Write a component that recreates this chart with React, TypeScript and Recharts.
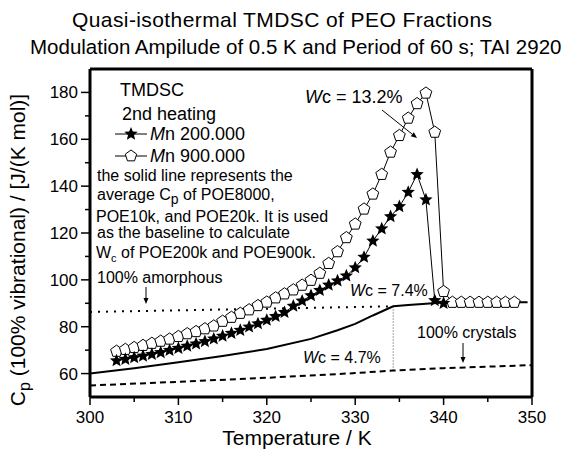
import React from "react";
import { LineChart, Line, XAxis, YAxis, ReferenceLine } from "recharts";

const FONT = '"Liberation Sans", Arial, Helvetica, sans-serif';

// Mn 200.000 (stars), 2nd heating
const mn200Temp = [
  303, 304, 305, 306, 307, 308, 309, 310, 311, 312, 313, 314, 315, 316, 317,
  318, 319, 320, 321, 322, 323, 324, 325, 326, 327, 328, 329, 330, 331, 332,
  333, 334, 335, 336, 337, 338, 339, 340,
];
const mn200Cp = [
  65.5, 66.1, 66.8, 67.5, 68.2, 69.0, 69.9, 70.8, 71.7, 72.7, 73.7, 74.8, 76.0,
  77.2, 78.5, 79.9, 81.3, 82.8, 84.4, 86.1, 88.8, 91.0, 93.3, 95.5, 97.8, 99.6,
  101.7, 105.2, 109.7, 116.6, 121.8, 127.0, 131.3, 137.4, 145.0, 134.2, 91.2,
  90.0,
];

// Mn 900.000 (open pentagons)
const mn900Temp = [
  303, 304, 305, 306, 307, 308, 309, 310, 311, 312, 313, 314, 315, 316, 317,
  318, 319, 320, 321, 322, 323, 324, 325, 326, 327, 328, 329, 330, 331, 332,
  333, 334, 335, 336, 337, 338, 339, 340, 341, 342, 343, 344, 345, 346, 347,
  348,
];
const mn900Cp = [
  69.5, 70.3, 71.1, 72.0, 72.9, 73.8, 74.7, 75.8, 77.0, 77.9, 79.1, 80.3, 82.3,
  84.0, 85.7, 87.2, 89.0, 90.5, 92.3, 94.0, 95.7, 97.7, 99.8, 102.8, 107.0,
  112.0, 118.0, 123.8, 130.2, 136.6, 145.0, 154.5, 161.6, 169.0, 175.2, 179.7,
  163.0, 95.0, 90.4, 90.4, 90.4, 90.4, 90.4, 90.4, 90.4, 90.4,
];

// average Cp of POE8000 / 10k / 20k (solid baseline)
const baseTemp = [300, 305, 310, 315, 320, 325, 328, 330, 332, 334.3, 336, 338, 340, 345, 349.5];
const baseCp = [60.0, 62.3, 64.8, 67.5, 70.5, 74.8, 78.5, 81.2, 84.8, 88.7, 89.3, 89.8, 90.3, 90.4, 90.4];

// 100% crystals (dashed)
const crystalTemp = [300, 310, 320, 330, 334.3, 340, 350];
const crystalCp = [54.9, 56.5, 58.2, 60.2, 61.3, 62.3, 63.6];

// 100% amorphous (dotted)
const amorphTemp = [300, 334.3];
const amorphCp = [86.3, 88.7];

// end of melting, vertical guide
const meltTemp = 334.3;
const meltRange = [61.3, 88.7];

const xMajor = [300, 310, 320, 330, 340, 350];
const xMinor = [305, 315, 325, 335, 345];
const yMajor = [60, 80, 100, 120, 140, 160, 180];
const yMinor = [70, 90, 110, 130, 150, 170];

const rows = (t: number[], cp: number[]) => t.map((v, i) => ({ t: v, cp: cp[i] }));

const mn200Data = rows(mn200Temp, mn200Cp);
const mn900Data = rows(mn900Temp, mn900Cp);
const baseData = rows(baseTemp, baseCp);
const crystalData = rows(crystalTemp, crystalCp);
const amorphData = rows(amorphTemp, amorphCp);

const starPoints = (cx: number, cy: number, r: number) => {
  const pts: string[] = [];
  for (let i = 0; i < 10; i++) {
    const rr = i % 2 === 0 ? r : r * 0.45;
    const a = -Math.PI / 2 + (i * Math.PI) / 5;
    pts.push(`${cx + rr * Math.cos(a)},${cy + rr * Math.sin(a)}`);
  }
  return pts.join(" ");
};

const pentPoints = (cx: number, cy: number, r: number) => {
  const pts: string[] = [];
  for (let i = 0; i < 5; i++) {
    const a = -Math.PI / 2 + (i * 2 * Math.PI) / 5;
    pts.push(`${cx + r * Math.cos(a)},${cy + r * Math.sin(a)}`);
  }
  return pts.join(" ");
};

const StarDot = (p: any) => (
  <polygon key={`s${p.index}`} points={starPoints(p.cx, p.cy, 7)} fill="#000" />
);

const PentDot = (p: any) => (
  <polygon
    key={`p${p.index}`}
    points={pentPoints(p.cx, p.cy, 6.2)}
    fill="#fff"
    stroke="#000"
    strokeWidth={1}
  />
);

const XTick = (p: any) => {
  const major = p.payload.value % 10 === 0;
  return (
    <g>
      <line x1={p.x} x2={p.x} y1={p.y} y2={p.y + (major ? 8 : 5)} stroke="#000" strokeWidth={1.5} />
      {major && (
        <text x={p.x} y={p.y + 26} textAnchor="middle" fontSize={17} fontFamily={FONT} fill="#000">
          {p.payload.value}
        </text>
      )}
    </g>
  );
};

const YTick = (p: any) => {
  const major = p.payload.value % 20 === 0;
  return (
    <g>
      <line x1={p.x} x2={p.x - (major ? 9 : 5)} y1={p.y} y2={p.y} stroke="#000" strokeWidth={1.5} />
      {major && (
        <text x={p.x - 12} y={p.y + 6} textAnchor="end" fontSize={17} fontFamily={FONT} fill="#000">
          {p.payload.value}
        </text>
      )}
    </g>
  );
};

const Arrow = ({ x1, y1, x2, y2 }: { x1: number; y1: number; x2: number; y2: number }) => {
  const a = Math.atan2(y2 - y1, x2 - x1);
  const h = 6;
  const w = 2.5;
  const bx = x2 - h * Math.cos(a);
  const by = y2 - h * Math.sin(a);
  return (
    <g>
      <line x1={x1} y1={y1} x2={bx} y2={by} stroke="#000" strokeWidth={1} />
      <polygon
        points={`${x2},${y2} ${bx + w * Math.sin(a)},${by - w * Math.cos(a)} ${bx - w * Math.sin(a)},${by + w * Math.cos(a)}`}
        fill="#000"
      />
    </g>
  );
};

const Annotations = () => (
  <svg
    width={575}
    height={450}
    style={{ position: "absolute", left: 0, top: 0, pointerEvents: "none" }}
    fontFamily={FONT}
    fill="#000"
  >
    <text x={282} y={27} fontSize={21} textAnchor="middle" textLength={420}>
      Quasi-isothermal TMDSC of PEO Fractions
    </text>
    <text x={30} y={54} fontSize={20.5}>Modulation Ampilude of 0.5 K and Period of 60 s; TAI 2920</text>

    <text x={297} y={445} fontSize={21} textAnchor="middle">Temperature / K</text>
    <text x={25} y={250} fontSize={21} textAnchor="middle" transform="rotate(-90 25 250)">
      C<tspan fontSize={16} dy={5}>p</tspan>
      <tspan dy={-5}> (100% vibrational) / [J/(K mol)]</tspan>
    </text>

    <text x={120} y={96} fontSize={18}>TMDSC</text>
    <text x={122} y={120} fontSize={18}>2nd heating</text>

    <line x1={115} x2={147} y1={134} y2={134} stroke="#000" strokeWidth={1} />
    <polygon points={starPoints(131, 134, 7)} fill="#000" />
    <text x={150} y={140} fontSize={18}>
      <tspan fontStyle="italic">M</tspan>n 200.000
    </text>
    <line x1={115} x2={147} y1={156} y2={156} stroke="#000" strokeWidth={1} />
    <polygon points={pentPoints(131, 156, 6)} fill="#fff" stroke="#000" strokeWidth={1} />
    <text x={150} y={162} fontSize={18}>
      <tspan fontStyle="italic">M</tspan>n 900.000
    </text>

    <g fontSize={16}>
      <text x={97} y={181}>the solid line represents the</text>
      <text x={97} y={200}>
        average C<tspan fontSize={14} dy={4}>p</tspan>
        <tspan dy={-4}> of POE8000,</tspan>
      </text>
      <text x={96} y={222}>POE10k, and POE20k. It is used</text>
      <text x={97} y={238}>as the baseline to calculate</text>
      <text x={96} y={258}>
        W<tspan fontSize={11} dy={4}>c</tspan>
        <tspan dy={-4}> of POE200k and POE900k.</tspan>
      </text>
      <text x={97} y={283}>100% amorphous</text>
    </g>
    <Arrow x1={146} y1={287} x2={146} y2={304} />

    <text x={305} y={103} fontSize={18}>
      <tspan fontStyle="italic">W</tspan>c = 13.2%
    </text>
    <Arrow x1={382} y1={110} x2={417} y2={138} />

    <text x={350} y={296} fontSize={16}>
      <tspan fontStyle="italic">W</tspan>c = 7.4%
    </text>
    <text x={303} y={363} fontSize={16}>
      <tspan fontStyle="italic">W</tspan>c = 4.7%
    </text>
    <text x={417} y={338} fontSize={16}>100% crystals</text>
    <Arrow x1={463} y1={343} x2={463} y2={363} />
  </svg>
);

export default function App() {
  return (
    <div style={{ position: "absolute", left: 0, top: 0, width: 575, height: 450, background: "#fff" }}>
      <LineChart width={575} height={450} margin={{ top: 68, right: 42, bottom: 0, left: 0 }}>
        <XAxis
          dataKey="t"
          type="number"
          domain={[300, 350]}
          ticks={[...xMajor, ...xMinor].sort((a, b) => a - b)}
          interval={0}
          height={53}
          tickSize={0}
          tickMargin={0}
          tickLine={false}
          tick={<XTick />}
          axisLine={{ stroke: "#000", strokeWidth: 3 }}
          allowDataOverflow
        />
        <XAxis
          xAxisId="top"
          orientation="top"
          type="number"
          domain={[300, 350]}
          height={1}
          tick={false}
          tickLine={false}
          axisLine={{ stroke: "#000", strokeWidth: 3 }}
        />
        <YAxis
          type="number"
          domain={[50, 190]}
          ticks={[...yMajor, ...yMinor].sort((a, b) => a - b)}
          interval={0}
          width={90}
          tickSize={0}
          tickMargin={0}
          tickLine={false}
          tick={<YTick />}
          axisLine={{ stroke: "#000", strokeWidth: 3 }}
          allowDataOverflow
        />
        <YAxis
          yAxisId="right"
          orientation="right"
          type="number"
          domain={[50, 190]}
          width={1}
          tick={false}
          tickLine={false}
          axisLine={{ stroke: "#000", strokeWidth: 3 }}
        />
        <ReferenceLine
          segment={[
            { x: meltTemp, y: meltRange[0] },
            { x: meltTemp, y: meltRange[1] },
          ]}
          stroke="#444"
          strokeWidth={1}
          strokeDasharray="1 2"
        />
        <Line
          data={amorphData}
          dataKey="cp"
          stroke="#000"
          strokeWidth={2}
          strokeDasharray="2 6"
          dot={false}
          isAnimationActive={false}
        />
        <Line
          data={crystalData}
          dataKey="cp"
          stroke="#000"
          strokeWidth={2}
          strokeDasharray="6 4"
          dot={false}
          isAnimationActive={false}
        />
        <Line
          data={baseData}
          dataKey="cp"
          stroke="#000"
          strokeWidth={2}
          dot={false}
          isAnimationActive={false}
        />
        <Line
          data={mn900Data}
          dataKey="cp"
          stroke="#000"
          strokeWidth={1}
          dot={PentDot}
          isAnimationActive={false}
        />
        <Line
          data={mn200Data}
          dataKey="cp"
          stroke="#000"
          strokeWidth={1}
          dot={StarDot}
          isAnimationActive={false}
        />
      </LineChart>
      <Annotations />
    </div>
  );
}
